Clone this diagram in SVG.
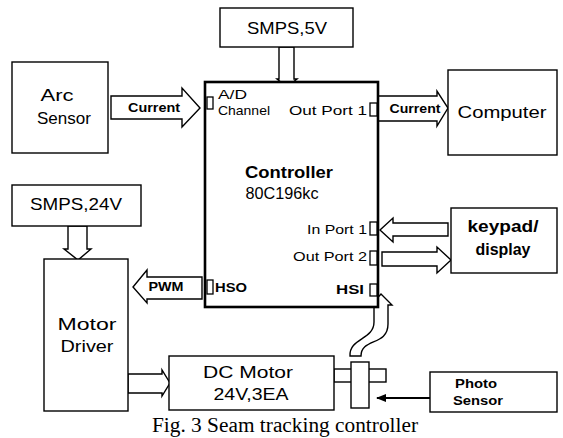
<svg xmlns="http://www.w3.org/2000/svg" width="563" height="438" viewBox="0 0 563 438">
<style>
.box{fill:#fff;stroke:#000;stroke-width:1.4}
.ctrl{fill:#fff;stroke:#000;stroke-width:2.6}
.arr{fill:#fff;stroke:#000;stroke-width:1.4;stroke-linejoin:miter}
.port{fill:#fff;stroke:#000;stroke-width:1.3}
text{font-family:"Liberation Sans",Arial,sans-serif;fill:#000}
.big{font-size:17px}
.sm{font-size:13px}
.b{font-weight:bold}
.cap{font-family:"Liberation Serif","Times New Roman",serif;font-size:20px}
</style>
<defs>
<marker id="ah" markerWidth="10" markerHeight="8" refX="9" refY="4" orient="auto" markerUnits="userSpaceOnUse">
<path d="M0,0 L10,4 L0,8 Z" fill="#000"/>
</marker>
</defs>

<g id="connectors">
<polygon class="arr" points="279,47 294,47 294,79 297,79 287,87 277,79 279,79"/>
<polygon class="arr" points="111,96 182,96 182,88 200,108 182,127 182,119 111,119"/>
<polygon class="arr" points="378,96 437,96 437,91 448,108 437,126 437,121 378,121"/>
<polygon class="arr" points="68,226 87,226 87,249 91,249 78,260 64,249 68,249"/>
<polygon class="arr" points="202,277 147,277 147,270 133,287 147,303 147,299 202,299"/>
<polygon class="arr" points="448,223 393,223 393,218 380,230 393,242 393,236 448,236"/>
<polygon class="arr" points="382,252 437,252 437,247 451,260 437,273 437,266 382,266"/>
<polygon class="arr" points="128,374 162,374 162,370 170,383 162,396 162,393 128,393"/>
<path class="arr" d="M350,356 C349,338 374,340 374,322 L374,305 L371,305 L381,294 L392,305 L388,305 L388,324 C388,346 361,338 361,356 Z"/>
<line x1="430" y1="398" x2="377" y2="398" stroke="#000" stroke-width="2" marker-end="url(#ah)"/>
</g>

<g id="smps5v">
<rect class="box" x="220" y="8" width="133" height="39"/>
<text class="big" x="287" y="34" text-anchor="middle" textLength="80" lengthAdjust="spacingAndGlyphs">SMPS,5V</text>
</g>

<g id="controller">
<rect class="ctrl" x="205" y="82" width="173" height="225"/>
<rect class="port" x="207" y="97" width="6" height="12"/>
<rect class="port" x="370" y="103" width="7" height="13"/>
<rect class="port" x="370" y="222" width="7" height="13"/>
<rect class="port" x="370" y="251" width="7" height="14"/>
<rect class="port" x="370" y="284" width="7" height="12"/>
<rect class="port" x="207" y="280" width="6" height="14"/>
<text class="sm" x="218" y="99" textLength="29" lengthAdjust="spacingAndGlyphs">A/D</text>
<text class="sm" x="218" y="115" textLength="52" lengthAdjust="spacingAndGlyphs">Channel</text>
<text class="sm" x="367" y="115" text-anchor="end" textLength="78" lengthAdjust="spacingAndGlyphs">Out Port 1</text>
<text class="big b" x="289" y="178" text-anchor="middle" textLength="88" lengthAdjust="spacingAndGlyphs">Controller</text>
<text class="big" x="282" y="199" text-anchor="middle" textLength="73" lengthAdjust="spacingAndGlyphs">80C196kc</text>
<text class="sm" x="367" y="234" text-anchor="end" textLength="60" lengthAdjust="spacingAndGlyphs">In Port 1</text>
<text class="sm" x="367" y="261" text-anchor="end" textLength="74" lengthAdjust="spacingAndGlyphs">Out Port 2</text>
<text class="sm b" x="364" y="294" text-anchor="end" textLength="28" lengthAdjust="spacingAndGlyphs">HSI</text>
<text class="sm b" x="215" y="292" textLength="32" lengthAdjust="spacingAndGlyphs">HSO</text>
</g>

<g id="arc-sensor">
<rect class="box" x="12" y="62" width="96" height="91"/>
<text class="big" x="57" y="101" text-anchor="middle" textLength="33" lengthAdjust="spacingAndGlyphs">Arc</text>
<text class="big" x="64" y="124" text-anchor="middle" textLength="54" lengthAdjust="spacingAndGlyphs">Sensor</text>
</g>

<g id="current-labels">
<text class="sm b" x="154" y="112" text-anchor="middle" textLength="52" lengthAdjust="spacingAndGlyphs">Current</text>
<text class="sm b" x="415" y="113" text-anchor="middle" textLength="51" lengthAdjust="spacingAndGlyphs">Current</text>
<text class="sm b" x="166" y="291" text-anchor="middle" textLength="35" lengthAdjust="spacingAndGlyphs">PWM</text>
</g>

<g id="computer">
<rect class="box" x="448" y="70" width="109" height="85"/>
<text class="big" x="502" y="118" text-anchor="middle" textLength="89" lengthAdjust="spacingAndGlyphs">Computer</text>
</g>

<g id="smps24v">
<rect class="box" x="12" y="185" width="129" height="41"/>
<text class="big" x="76" y="210" text-anchor="middle" textLength="92" lengthAdjust="spacingAndGlyphs">SMPS,24V</text>
</g>

<g id="keypad">
<rect class="box" x="451" y="208" width="106" height="65"/>
<text class="big b" x="503" y="232" text-anchor="middle" textLength="71" lengthAdjust="spacingAndGlyphs">keypad/</text>
<text class="big b" x="503" y="255" text-anchor="middle" textLength="55" lengthAdjust="spacingAndGlyphs">display</text>
</g>

<g id="motor-driver">
<rect class="box" x="44" y="259" width="84" height="152"/>
<text class="big" x="87" y="330" text-anchor="middle" textLength="59" lengthAdjust="spacingAndGlyphs">Motor</text>
<text class="big" x="87" y="352" text-anchor="middle" textLength="53" lengthAdjust="spacingAndGlyphs">Driver</text>
</g>

<g id="dc-motor">
<rect class="box" x="334" y="369" width="52" height="13"/>
<rect class="box" x="169" y="356" width="165" height="54"/>
<rect class="box" x="351" y="362" width="18" height="46"/>
<text class="big" x="248" y="378" text-anchor="middle" textLength="90" lengthAdjust="spacingAndGlyphs">DC Motor</text>
<text class="big" x="251" y="400" text-anchor="middle" textLength="75" lengthAdjust="spacingAndGlyphs">24V,3EA</text>
</g>

<g id="photo-sensor">
<rect class="box" x="430" y="372" width="127" height="40"/>
<text class="sm b" x="476" y="388" text-anchor="middle" textLength="42" lengthAdjust="spacingAndGlyphs">Photo</text>
<text class="sm b" x="478" y="405" text-anchor="middle" textLength="50" lengthAdjust="spacingAndGlyphs">Sensor</text>
</g>

<text class="cap" x="152" y="432" textLength="266" lengthAdjust="spacingAndGlyphs">Fig. 3 Seam tracking controller</text>
</svg>
